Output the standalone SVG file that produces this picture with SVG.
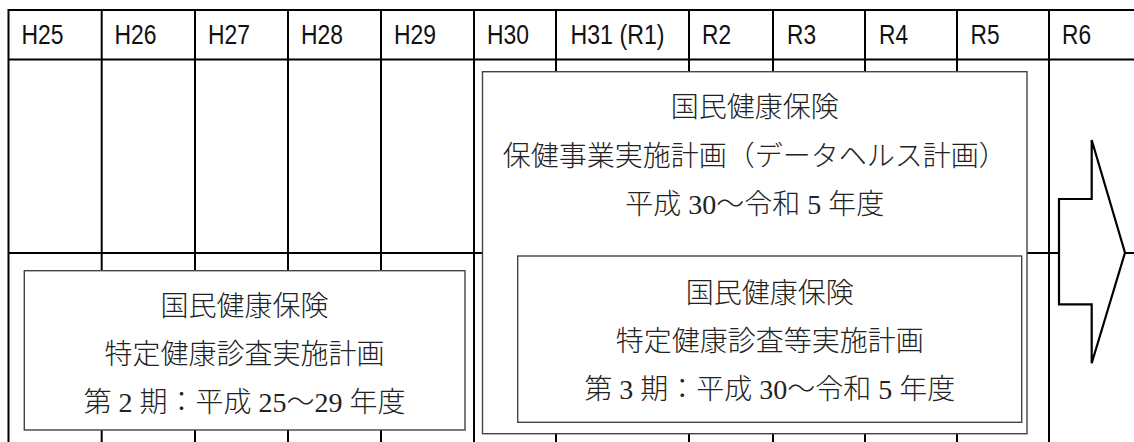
<svg xmlns="http://www.w3.org/2000/svg" width="1134" height="442" viewBox="0 0 1134 442">
<style>
.g{stroke:#000;stroke-width:2;fill:none}
.hd{font-family:"Liberation Sans","Noto Sans CJK JP",sans-serif;font-size:28px;fill:#111}
.box{fill:#fff;stroke:#444;stroke-width:1.4}
.bt{font-family:"Liberation Serif","Noto Sans CJK JP",serif;font-size:28px;font-weight:300;fill:#222;text-anchor:middle}
</style>
<rect width="1134" height="442" fill="#fff"/>
<g id="grid" class="g">
<line x1="8.5" y1="10" x2="1134" y2="10"/>
<line x1="8.5" y1="59.5" x2="1134" y2="59.5"/>
<line x1="8.5" y1="253" x2="1134" y2="253"/>
<line x1="8.5" y1="9" x2="8.5" y2="442"/>
<line x1="101.7" y1="10" x2="101.7" y2="442"/>
<line x1="195" y1="10" x2="195" y2="442"/>
<line x1="288" y1="10" x2="288" y2="442"/>
<line x1="381" y1="10" x2="381" y2="442"/>
<line x1="474" y1="10" x2="474" y2="442"/>
<line x1="556" y1="10" x2="556" y2="442"/>
<line x1="689" y1="10" x2="689" y2="442"/>
<line x1="773" y1="10" x2="773" y2="442"/>
<line x1="865" y1="10" x2="865" y2="442"/>
<line x1="957" y1="10" x2="957" y2="442"/>
<line x1="1049" y1="10" x2="1049" y2="442"/>
</g>
<g id="header" class="hd">
<text x="21.5" y="43.5" textLength="42" lengthAdjust="spacingAndGlyphs">H25</text>
<text x="114.5" y="43.5" textLength="42" lengthAdjust="spacingAndGlyphs">H26</text>
<text x="208" y="43.5" textLength="42" lengthAdjust="spacingAndGlyphs">H27</text>
<text x="301" y="43.5" textLength="42" lengthAdjust="spacingAndGlyphs">H28</text>
<text x="394" y="43.5" textLength="42" lengthAdjust="spacingAndGlyphs">H29</text>
<text x="487" y="43.5" textLength="42" lengthAdjust="spacingAndGlyphs">H30</text>
<text x="570.5" y="43.5" textLength="94" lengthAdjust="spacingAndGlyphs">H31 (R1)</text>
<text x="702" y="43.5" textLength="29" lengthAdjust="spacingAndGlyphs">R2</text>
<text x="787" y="43.5" textLength="29" lengthAdjust="spacingAndGlyphs">R3</text>
<text x="879" y="43.5" textLength="29" lengthAdjust="spacingAndGlyphs">R4</text>
<text x="970.5" y="43.5" textLength="29" lengthAdjust="spacingAndGlyphs">R5</text>
<text x="1062" y="43.5" textLength="29" lengthAdjust="spacingAndGlyphs">R6</text>
</g>
<g id="plan2">
<rect class="box" x="24.3" y="270.7" width="440.7" height="159.3"/>
<text class="bt" x="244.6" y="315.5">国民健康保険</text>
<text class="bt" x="244.6" y="363.5">特定健康診査実施計画</text>
<text class="bt" x="244.6" y="411.5">第 2 期：平成 25〜29 年度</text>
</g>
<g id="datahealth">
<rect class="box" x="482.5" y="71.7" width="544.5" height="362" stroke="#555"/>
<text class="bt" x="754.7" y="116.5">国民健康保険</text>
<text class="bt" x="754.7" y="165.5">保健事業実施計画（データヘルス計画）</text>
<text class="bt" x="754.7" y="213.5">平成 30〜令和 5 年度</text>
</g>
<g id="plan3">
<rect class="box" x="517.7" y="256" width="504" height="166.3"/>
<text class="bt" x="769.7" y="302.5">国民健康保険</text>
<text class="bt" x="769.7" y="350.5">特定健康診査等実施計画</text>
<text class="bt" x="769.7" y="398.5">第 3 期：平成 30〜令和 5 年度</text>
</g>
<g id="arrow">
<polygon points="1091.7,140 1091.7,199 1059,199 1059,304.3 1091.7,304.3 1091.7,363.3 1125,252.7" fill="#fff" stroke="#000" stroke-width="2.2" stroke-linejoin="miter"/>
</g>
</svg>
